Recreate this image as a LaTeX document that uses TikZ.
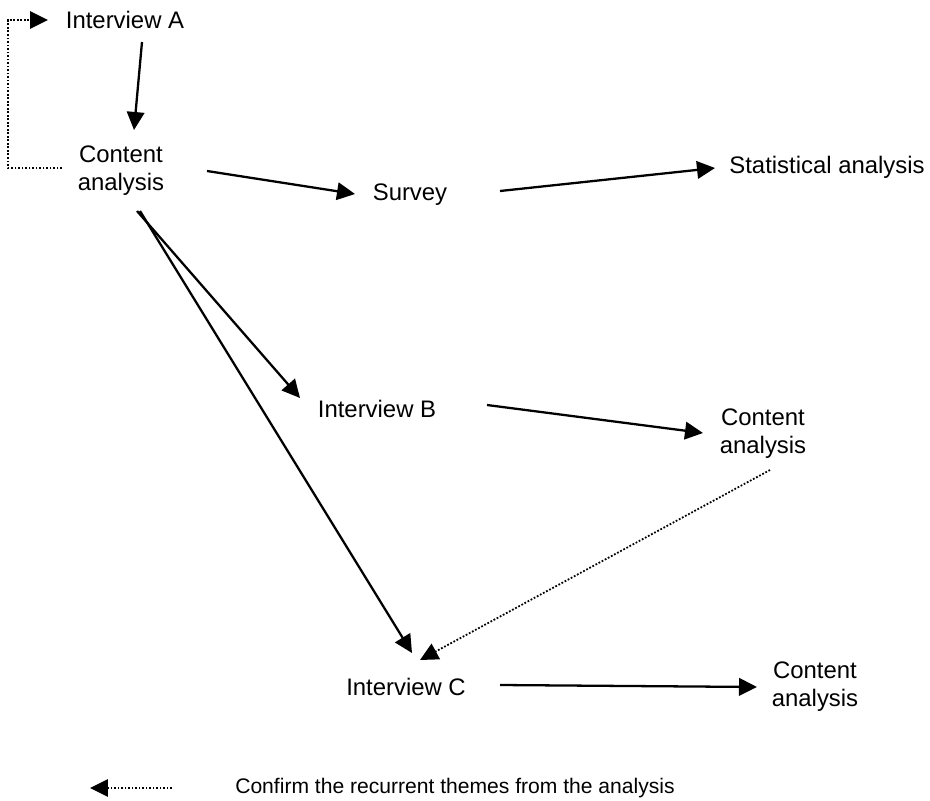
\documentclass[tikz,border=0pt]{standalone}
\usepackage{fontspec}
\setmainfont{Liberation Sans}
\usetikzlibrary{arrows.meta,calc}
\begin{document}
\begin{tikzpicture}[x=0.02cm,y=-0.02cm]
	\tikzstyle{every node}=[inner sep=0pt,align=center,font=\fontsize{13.6}{16}\selectfont]
	\tikzstyle{link}=[-{Triangle[length=0.36cm,width=0.35cm]},line width=1.3pt]
	\tikzstyle{recheck}=[link,line width=1pt,densely dotted]
	\useasboundingbox (0,0) rectangle (930,801);

	%% stages
	\node (iA)   at (125,20)  {Interview A};
	\node (ca1)  at (121,171) {Content\\analysis};
	\node (surv) at (410,195) {Survey};
	\node (stat) at (827,167) {Statistical analysis};
	\node (iB)   at (377,409) {Interview B};
	\node (ca2)  at (763,434) {Content\\analysis};
	\node (iC)   at (406,687) {Interview C};
	\node (ca3)  at (815,687) {Content\\analysis};

	%% solid links
	\draw [link] ($(iA)+(17,22)$)    -- ($(ca1)+(13,-41)$);
	\draw [link] ($(ca1)+(86,0)$)    -- ($(surv)+(-55,-1)$);
	\draw [link] ($(surv)+(90,-4)$)  -- ($(stat)+(-112,1)$);
	\draw [link] ($(ca1)+(16,40)$)   -- ($(iB)+(-77,-11)$);
	\draw [link] ($(ca1)+(19,40)$)   -- ($(iC)+(6,-34)$);
	\draw [link] ($(iB)+(110,-4)$)   -- ($(ca2)+(-60,-1)$);
	\draw [link] ($(iC)+(94,-2)$)    -- ($(ca3)+(-58,0)$);

	%% dotted links
	\coordinate (turn) at (8,168);
	\draw [recheck] ($(ca1)+(-59,-3)$) -- (turn) |- ($(iA)+(-77,0)$);
	\draw [recheck] ($(ca2)+(7,36)$) -- ($(iC)+(14,-27)$);

	%% key
	\coordinate (keyend) at (172,788);
	\coordinate (keytip) at (90,788);
	\draw [recheck] (keyend) -- (keytip);
	\node (key) at (455,788) [font=\fontsize{12}{14}\selectfont] {Confirm the recurrent themes from the analysis};

\end{tikzpicture}
\end{document}
